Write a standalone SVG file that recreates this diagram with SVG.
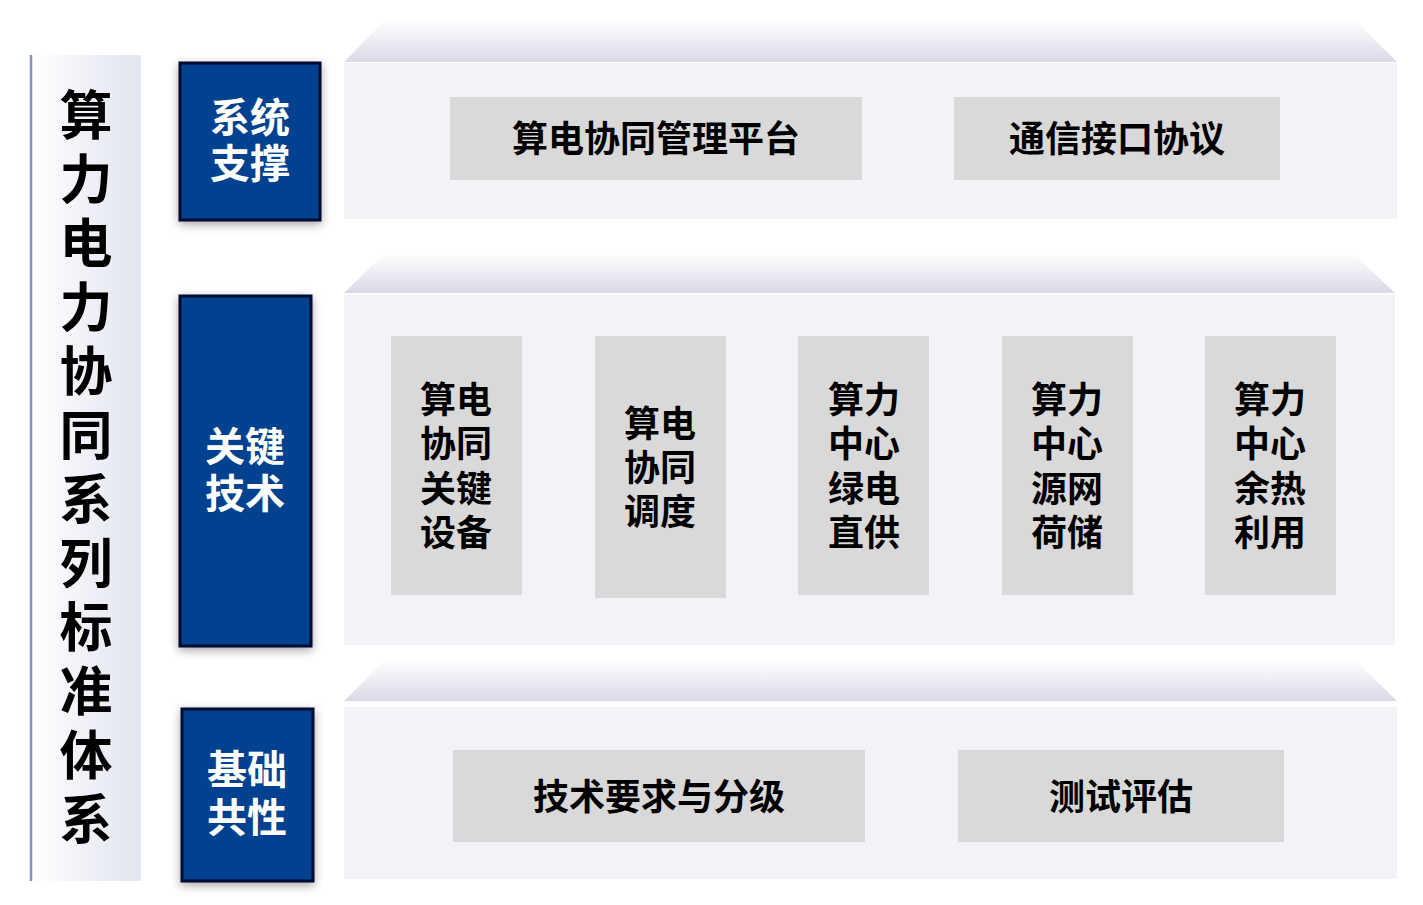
<svg xmlns="http://www.w3.org/2000/svg" width="1423" height="905" viewBox="0 0 1423 905">
<defs>
<linearGradient id="leftg" x1="0" y1="0" x2="1" y2="0">
<stop offset="0" stop-color="#ffffff"/>
<stop offset="1" stop-color="#e2e4ef"/>
</linearGradient>
<linearGradient id="topline" x1="0" y1="0" x2="1" y2="0">
<stop offset="0" stop-color="#8a90b8"/>
<stop offset="1" stop-color="#e2e4ef"/>
</linearGradient>
<linearGradient id="bevel" x1="0" y1="0" x2="0" y2="1">
<stop offset="0" stop-color="#ffffff"/>
<stop offset="1" stop-color="#d9d9e7"/>
</linearGradient>
<filter id="sh" x="-20%" y="-20%" width="140%" height="140%">
<feDropShadow dx="0" dy="3" stdDeviation="5" flood-color="#000000" flood-opacity="0.35"/>
</filter>
</defs>
<style>
.panel{fill:#f2f3f7}
.bevel{fill:url(#bevel)}
.blue{fill:#02428f;stroke:#000a33;stroke-width:3;filter:url(#sh)}
.gbox{fill:#d9d9d9}
.bt{font-family:"Noto Sans CJK SC","Noto Sans",sans-serif;font-weight:bold;font-size:40px;fill:#ffffff;text-anchor:middle}
.gt{font-family:"Noto Sans CJK SC","Noto Sans",sans-serif;font-weight:bold;font-size:36px;fill:#000000;text-anchor:middle}
.tt{font-family:"Noto Sans CJK SC","Noto Sans",sans-serif;font-weight:bold;font-size:53px;fill:#000000;text-anchor:middle}
</style>
<rect width="1423" height="905" fill="#ffffff"/>

<g id="title">
<rect x="30" y="55" width="111" height="826" fill="url(#leftg)"/>
<line x1="31" y1="55" x2="31" y2="881" stroke="#8a90b8" stroke-width="2.5"/>
<line x1="30" y1="56" x2="141" y2="56" stroke="url(#topline)" stroke-width="2"/>
<text class="tt" x="86" y="135">算</text>
<text class="tt" x="86" y="199">力</text>
<text class="tt" x="86" y="263">电</text>
<text class="tt" x="86" y="327">力</text>
<text class="tt" x="86" y="391">协</text>
<text class="tt" x="86" y="455">同</text>
<text class="tt" x="86" y="519">系</text>
<text class="tt" x="86" y="583">列</text>
<text class="tt" x="86" y="647">标</text>
<text class="tt" x="86" y="711">准</text>
<text class="tt" x="86" y="775">体</text>
<text class="tt" x="86" y="839">系</text>
</g>

<g id="layer-system">
<polygon class="bevel" points="385,20 1355,20 1397,62 344,62"/>
<rect class="panel" x="344" y="63" width="1053" height="156"/>
</g>
<g id="label-system">
<rect class="blue" x="180" y="63" width="140" height="157"/>
<text class="bt" x="250" y="132">系统</text>
<text class="bt" x="250" y="178">支撑</text>
</g>
<g id="node-platform">
<rect class="gbox" x="450" y="97" width="412" height="83"/>
<text class="gt" x="656" y="152">算电协同管理平台</text>
</g>
<g id="node-protocol">
<rect class="gbox" x="954" y="97" width="326" height="83"/>
<text class="gt" x="1117" y="152">通信接口协议</text>
</g>

<g id="layer-key">
<polygon class="bevel" points="385,253 1353,253 1395,293 344,293"/>
<rect class="panel" x="344" y="295" width="1051" height="350"/>
</g>
<g id="label-key">
<rect class="blue" x="180" y="296" width="131" height="350"/>
<text class="bt" x="245" y="461">关键</text>
<text class="bt" x="245" y="508">技术</text>
</g>
<g id="node-equipment">
<rect class="gbox" x="391" y="336" width="131" height="259"/>
<text class="gt" x="456" y="413">算电</text>
<text class="gt" x="456" y="457">协同</text>
<text class="gt" x="456" y="502">关键</text>
<text class="gt" x="456" y="546">设备</text>
</g>
<g id="node-dispatch">
<rect class="gbox" x="595" y="336" width="131" height="262"/>
<text class="gt" x="660" y="437">算电</text>
<text class="gt" x="660" y="481">协同</text>
<text class="gt" x="660" y="525">调度</text>
</g>
<g id="node-green">
<rect class="gbox" x="798" y="336" width="131" height="259"/>
<text class="gt" x="864" y="413">算力</text>
<text class="gt" x="864" y="457">中心</text>
<text class="gt" x="864" y="502">绿电</text>
<text class="gt" x="864" y="546">直供</text>
</g>
<g id="node-source">
<rect class="gbox" x="1002" y="336" width="131" height="259"/>
<text class="gt" x="1067" y="413">算力</text>
<text class="gt" x="1067" y="457">中心</text>
<text class="gt" x="1067" y="502">源网</text>
<text class="gt" x="1067" y="546">荷储</text>
</g>
<g id="node-heat">
<rect class="gbox" x="1205" y="336" width="131" height="259"/>
<text class="gt" x="1270" y="413">算力</text>
<text class="gt" x="1270" y="457">中心</text>
<text class="gt" x="1270" y="502">余热</text>
<text class="gt" x="1270" y="546">利用</text>
</g>

<g id="layer-base">
<polygon class="bevel" points="385,660 1355,660 1397,701 344,701"/>
<rect class="panel" x="344" y="707" width="1053" height="172"/>
</g>
<g id="label-base">
<rect class="blue" x="182" y="709" width="131" height="172"/>
<text class="bt" x="247" y="784">基础</text>
<text class="bt" x="247" y="832">共性</text>
</g>
<g id="node-tech">
<rect class="gbox" x="453" y="750" width="412" height="92"/>
<text class="gt" x="659" y="810">技术要求与分级</text>
</g>
<g id="node-test">
<rect class="gbox" x="958" y="750" width="326" height="92"/>
<text class="gt" x="1121" y="810">测试评估</text>
</g>

<g id="connectors"></g>
</svg>
